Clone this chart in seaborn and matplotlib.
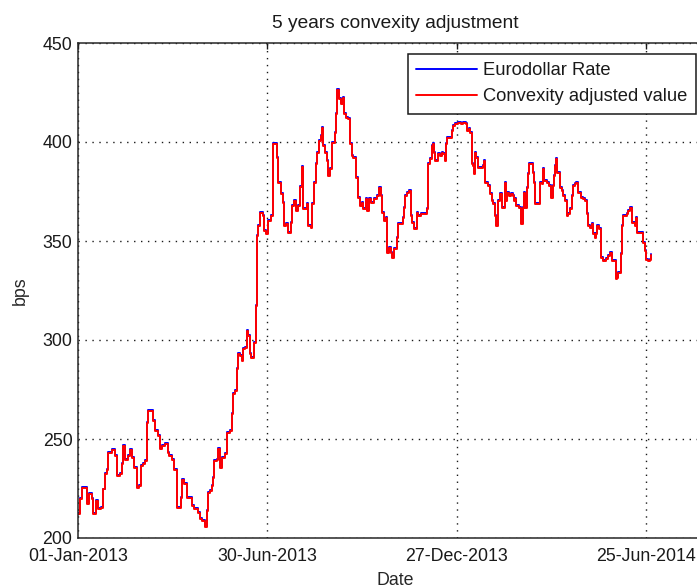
"""
5 years convexity adjustment: Eurodollar rate vs convexity adjusted value.
Re-drawn with seaborn in the style of the original MATLAB figure.
"""

import matplotlib
matplotlib.use("Agg")
import matplotlib.dates as mdates
import matplotlib.pyplot as plt
import numpy as np
import pandas as pd
import seaborn as sns

# ----------------------------------------------------------------- data ----
START_DATE = "2013-01-01"

# days since 01-Jan-2013 for each observation
day_offsets = [
    0, 2, 4, 7, 9, 10, 13, 14, 17, 19, 22, 24, 26, 28, 29, 32, 35, 37, 40, 42,
    43, 45, 48, 49, 51, 53, 56, 58, 60, 62, 64, 66, 67, 69, 71, 73, 76, 78, 80, 83,
    86, 87, 89, 91, 94, 96, 98, 99, 101, 104, 106, 108, 110, 114, 116, 118, 121, 123, 124, 126,
    127, 128, 129, 132, 133, 135, 137, 140, 142, 145, 146, 147, 149, 151, 152, 154, 156, 157, 159, 161,
    162, 164, 165, 166, 167, 169, 170, 171, 173, 176, 177, 179, 181, 184, 185, 187, 189, 190, 193, 195,
    196, 198, 200, 203, 204, 205, 207, 209, 211, 213, 214, 216, 218, 219, 222, 223, 224, 226, 227, 229,
    231, 232, 233, 235, 237, 238, 240, 241, 242, 244, 245, 246, 248, 250, 252, 253, 255, 257, 259, 261,
    262, 264, 266, 268, 270, 271, 274, 275, 277, 279, 282, 284, 286, 288, 289, 291, 293, 294, 296, 298,
    299, 301, 303, 304, 307, 309, 310, 311, 313, 315, 317, 318, 320, 322, 323, 326, 328, 330, 332, 333,
    335, 337, 338, 339, 340, 342, 344, 346, 347, 349, 350, 351, 354, 356, 357, 359, 361, 364, 366, 369,
    370, 372, 373, 375, 376, 377, 378, 379, 380, 383, 385, 386, 387, 389, 390, 392, 394, 395, 397, 398,
    399, 401, 403, 404, 406, 407, 408, 410, 412, 414, 415, 416, 417, 419, 421, 423, 424, 425, 427, 428,
    429, 431, 433, 434, 435, 437, 439, 441, 442, 443, 445, 446, 448, 450, 452, 453, 454, 455, 456, 458,
    460, 461, 463, 465, 466, 468, 470, 471, 473, 474, 476, 478, 480, 482, 484, 485, 487, 489, 490, 492,
    493, 494, 496, 497, 499, 502, 504, 506, 508, 510, 512, 513, 514, 516, 517, 518, 520, 522, 523, 525,
    527, 528, 530, 531, 532, 535, 537, 539, 540, 542, 544, 545,
]

# Eurodollar rate (bps)
eurodollar_rate = [
    212.6, 220.0, 226.0, 226.0, 217.7, 222.7, 220.0, 212.6, 219.0, 215.0, 215.5, 225.0, 232.8, 235.0, 243.4, 245.0, 242.0, 232.0, 232.8, 238.0,
    247.0, 240.0, 242.0, 245.0, 241.0, 236.0, 226.0, 227.0, 237.0, 238.0, 239.4, 258.6, 264.6, 264.6, 259.6, 254.5, 252.0, 245.5, 247.0, 248.0,
    243.4, 242.0, 240.0, 235.0, 215.6, 215.6, 220.7, 230.0, 227.8, 220.7, 220.7, 216.7, 215.0, 213.0, 210.0, 209.0, 206.0, 214.0, 223.0, 224.0,
    226.8, 230.8, 239.4, 240.0, 245.5, 236.0, 241.0, 243.0, 253.6, 254.5, 263.0, 273.0, 274.7, 285.8, 293.4, 292.4, 290.0, 296.0, 296.5, 305.0,
    302.5, 293.4, 291.4, 291.4, 299.0, 317.7, 353.0, 358.0, 364.6, 363.0, 355.6, 354.0, 360.6, 363.0, 399.5, 399.5, 392.4, 380.0, 374.0, 369.7,
    358.0, 359.0, 354.5, 359.6, 368.0, 370.7, 365.6, 368.0, 378.0, 388.0, 366.7, 366.7, 369.0, 358.0, 357.0, 369.0, 380.0, 389.4, 395.0, 401.0,
    403.5, 407.6, 398.5, 395.0, 391.0, 383.3, 386.9, 387.0, 400.0, 405.0, 414.6, 427.0, 422.0, 419.7, 422.7, 414.6, 412.6, 412.0, 399.5, 393.4,
    392.4, 382.3, 372.2, 368.0, 369.7, 366.7, 371.7, 365.7, 371.7, 369.7, 371.7, 373.2, 377.3, 373.2, 364.6, 360.6, 362.0, 344.4, 347.0, 344.4,
    342.0, 346.5, 352.0, 359.0, 359.0, 362.0, 367.0, 373.2, 374.7, 375.8, 363.0, 359.6, 356.6, 364.6, 363.0, 364.0, 364.0, 364.0, 366.7, 389.4,
    392.0, 398.5, 399.5, 395.0, 391.0, 394.4, 393.4, 395.0, 394.4, 391.0, 399.5, 402.5, 402.5, 406.0, 408.6, 409.6, 410.0, 409.6, 410.0, 409.6,
    406.0, 407.0, 405.0, 389.4, 388.4, 384.3, 395.0, 392.4, 387.4, 387.4, 388.4, 391.0, 379.8, 379.8, 378.3, 374.2, 370.7, 369.2, 363.0, 358.0,
    370.7, 374.2, 367.0, 367.0, 379.8, 370.7, 374.7, 373.2, 374.2, 373.2, 370.7, 371.7, 368.0, 367.0, 359.0, 367.0, 374.7, 367.0, 377.3, 384.3,
    389.4, 389.4, 384.8, 379.8, 369.2, 369.2, 379.8, 379.3, 386.9, 380.8, 380.8, 379.8, 378.3, 372.2, 378.3, 383.3, 388.4, 391.9, 384.8, 377.3,
    375.8, 373.2, 370.7, 363.0, 364.0, 366.7, 373.2, 378.3, 379.3, 379.8, 374.7, 372.2, 371.7, 370.7, 364.0, 358.0, 357.0, 359.0, 354.0, 352.0,
    354.0, 358.0, 356.6, 342.0, 340.4, 341.4, 343.0, 344.4, 340.4, 340.4, 331.3, 331.8, 334.3, 344.0, 358.0, 363.0, 363.0, 364.0, 365.6, 367.0,
    359.6, 359.6, 358.0, 362.0, 354.5, 354.5, 349.5, 345.5, 341.0, 340.5, 341.0, 343.5,
]

# convexity adjustment (bps) subtracted from the futures rate
convexity_adjustment = 0.5

series_names = ["Eurodollar Rate", "Convexity adjusted value"]
series_colors = ["#0000ff", "#ff0000"]

tick_dates = ["2013-01-01", "2013-06-30", "2013-12-27", "2014-06-25"]
y_ticks = [200, 250, 300, 350, 400, 450]

# ----------------------------------------------------------------- frame ---
dates = pd.Timestamp(START_DATE) + pd.to_timedelta(day_offsets, unit="D")
rate = np.asarray(eurodollar_rate)
df = pd.concat([
    pd.DataFrame({"date": dates, "bps": rate, "series": series_names[0]}),
    pd.DataFrame({"date": dates, "bps": rate - convexity_adjustment, "series": series_names[1]}),
], ignore_index=True)

# ----------------------------------------------------------------- plot ----
sns.set_theme(style="white")
plt.rcParams["font.family"] = ["Liberation Sans", "DejaVu Sans"]
plt.rcParams["text.color"] = "#1a1a1a"

W, H = 697, 588
fig = plt.figure(figsize=(W / 100, H / 100), dpi=100)
fig.patch.set_facecolor("white")
ax = fig.add_axes([78 / W, 50 / H, (712 - 78) / W, 495 / H])

sns.lineplot(data=df, x="date", y="bps", hue="series", hue_order=series_names,
             palette=dict(zip(series_names, series_colors)), estimator=None,
             drawstyle="steps-post", linewidth=1.4, ax=ax)

ax.set_xlim(pd.Timestamp(START_DATE), pd.Timestamp(START_DATE) + pd.Timedelta(days=603))
ax.set_ylim(200, 450)
ax.set_xticks(pd.to_datetime(tick_dates))
ax.xaxis.set_major_formatter(mdates.DateFormatter("%d-%b-%Y"))
ax.set_yticks(y_ticks)

fs_tick, fs_text = 12.8, 13.2
ax.tick_params(direction="in", length=4, width=1, colors="#1a1a1a", labelsize=fs_tick,
               top=True, right=True, pad=4)
ax.tick_params(axis="x", pad=7.5)
for sp in ax.spines.values():
    sp.set_color("#262626")
    sp.set_linewidth(1.1)
ax.grid(True, color="#1a1a1a", linestyle=(0, (1, 4)), linewidth=1.0)

ax.set_title("5 years convexity adjustment", fontsize=13.8, pad=11)
ax.set_xlabel("Date", fontsize=fs_tick, labelpad=5)
ax.set_ylabel("bps", fontsize=fs_tick, labelpad=10)

handles, labels = ax.get_legend_handles_labels()
leg = ax.legend(handles, labels, loc="upper left",
                bbox_to_anchor=(408 / W, 1 - 54 / H), bbox_transform=fig.transFigure,
                borderaxespad=0, fontsize=fs_text, handlelength=3.3, handletextpad=0.35,
                labelspacing=0.5, borderpad=0.45, fancybox=False, framealpha=1)
leg.get_frame().set_edgecolor("#1a1a1a")
leg.get_frame().set_linewidth(1.1)

fig.savefig("out.png", dpi=100, facecolor="white")
